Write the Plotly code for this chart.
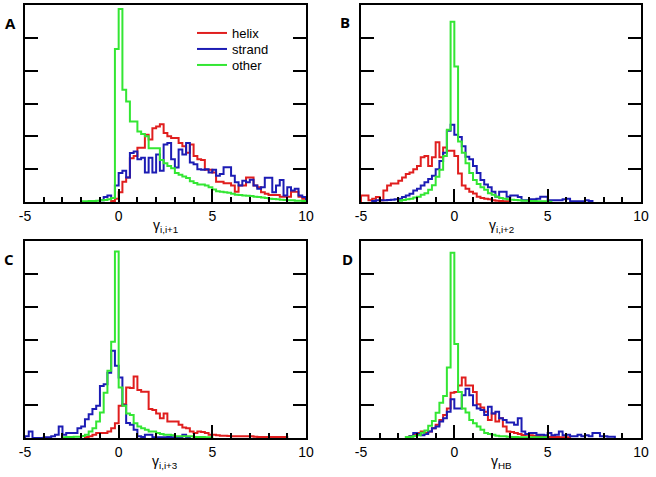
import plotly.graph_objects as go

BIN = 0.2
X_TICKS = [-5, 0, 5, 10]
X_TICK_TEXT = ["-5", "0", "5", "10"]
SERIES_NAMES = ["helix", "strand", "other"]
PANEL_LABELS = ["A", "B", "C", "D"]
AXIS_TITLES = ["γ<sub>i,i+1</sub>", "γ<sub>i,i+2</sub>", "γ<sub>i,i+3</sub>", "γ<sub>HB</sub>"]

# ---- Panel A (gamma i,i+1) ----
A_helix_start = -0.4
A_helix = [0.03, 0.1, 0.3, 0.62, 0.75, 1.33, 1.4, 1.65, 1.65, 2.05, 1.9, 2.25, 2.3, 2.37, 2.1, 2.0,
           1.95, 1.95, 1.8, 1.7, 1.5, 1.75, 1.4, 1.3, 1.28, 0.98, 0.98, 0.9, 0.62, 0.62, 0.57, 0.57,
           0.5, 0.31, 0.5, 0.5, 0.75, 0.75, 0.5, 0.45, 0.3, 0.25, 0.21, 0.21, 0.21, 0.16, 0.16, 0.16,
           0.31, 0.31, 0.16, 0.1]
A_strand_start = -1.0
A_strand = [0.05, 0.15, 0.2, 0.12, 0.5, 0.88, 0.95, 0.75, 1.49, 1.54, 1.3, 1.35, 0.9, 1.35, 0.9, 1.45,
            0.95, 1.75, 1.8, 1.3, 1.05, 1.6, 1.45, 1.8, 1.2, 1.15, 1.0, 0.98, 1.0, 0.9, 0.98, 0.8,
            0.85, 1.06, 1.06, 0.8, 0.6, 0.5, 0.65, 0.6, 0.68, 0.5, 0.4, 0.45, 0.74, 0.74, 0.3, 0.5,
            0.67, 0.2, 0.45, 0.35, 0.4, 0.2, 0.15]
A_other_start = -2.0
A_other = [0.02, 0.02, 0.03, 0.03, 0.04, 0.05, 0.06, 0.08, 0.12, 4.66, 5.88, 3.42, 3.06, 2.45, 2.45,
           2.15, 2.07, 2.0, 1.64, 1.64, 1.64, 1.28, 1.18, 1.1, 1.03, 0.88, 0.83, 0.78, 0.73, 0.63,
           0.58, 0.53, 0.53, 0.5, 0.45, 0.38, 0.33, 0.31, 0.3, 0.28, 0.25, 0.22, 0.21, 0.2, 0.19,
           0.18, 0.16, 0.15, 0.14, 0.12, 0.1, 0.09, 0.08, 0.07, 0.06, 0.05, 0.05, 0.04, 0.04, 0.03]

# ---- Panel B (gamma i,i+2) ----
B_helix_start = -5.0
B_helix = [0.2, 0.2, 0.05, 0.1, 0.15, 0.05, 0.35, 0.5, 0.56, 0.56, 0.65, 0.75, 0.85, 0.9, 1.0, 1.1,
           1.36, 1.4, 1.1, 1.36, 1.82, 1.36, 1.66, 1.56, 1.56, 1.4, 0.87, 0.5, 0.4, 0.31, 0.26, 0.16,
           0.12, 0.1, 0.08, 0.05, 0.04, 0.03, 0.02, 0.02]
B_strand_start = -4.4
B_strand = [0.03, 0.05, 0.05, 0.05, 0.06, 0.07, 0.08, 0.1, 0.15, 0.2, 0.25, 0.35, 0.4, 0.5, 0.6, 0.7,
            0.8, 1.0, 1.25, 1.5, 2.17, 2.35, 2.05, 1.98, 1.7, 1.38, 1.3, 1.1, 0.88, 0.67, 0.53, 0.45,
            0.31, 0.16, 0.31, 0.31, 0.16, 0.2, 0.2, 0.15, 0.05, 0.05, 0.08, 0.08, 0.1, 0.16, 0.16,
            0.05, 0.05, 0.05, 0.05, 0.08, 0.1, 0.02, 0.02, 0.02, 0.02, 0.05, 0.03]
B_other_start = -3.0
B_other = [0.04, 0.06, 0.08, 0.1, 0.14, 0.16, 0.22, 0.27, 0.37, 0.51, 0.77, 0.98, 1.4, 2.2, 5.49, 4.13,
           1.84, 1.5, 1.18, 0.88, 0.67, 0.55, 0.45, 0.37, 0.27, 0.22, 0.16, 0.12, 0.1, 0.08, 0.07,
           0.06, 0.05, 0.04, 0.04, 0.03, 0.03, 0.02, 0.02, 0.02, 0.01]

# ---- Panel C (gamma i,i+3) ----
C_helix_start = -1.8
C_helix = [0.03, 0.05, 0.1, 0.15, 0.15, 0.15, 0.2, 0.3, 0.45, 0.98, 1.03, 1.54, 1.52, 1.87, 1.46, 1.41,
           1.41, 0.88, 0.85, 0.75, 0.6, 0.75, 0.5, 0.5, 0.5, 0.4, 0.32, 0.3, 0.2, 0.15, 0.2, 0.18,
           0.15, 0.1, 0.1, 0.08, 0.07, 0.07, 0.06, 0.05, 0.05, 0.05, 0.05, 0.05, 0.05, 0.04, 0.03,
           0.03, 0.03, 0.03, 0.03, 0.03, 0.03, 0.03]
C_strand_start = -5.0
C_strand = [0.05, 0.2, 0.0, 0.0, 0.0, 0.02, 0.02, 0.05, 0.1, 0.35, 0.1, 0.15, 0.15, 0.15, 0.3, 0.35,
            0.57, 0.72, 0.88, 0.98, 1.58, 1.64, 1.99, 2.66, 2.2, 1.84, 1.0, 0.46, 0.4, 0.25, 0.05,
            0.03, 0.1, 0.1, 0.02, 0.02, 0.02, 0.02, 0.03, 0.02, 0.02, 0.02, 0.1, 0.02]
C_other_start = -3.0
C_other = [0.02, 0.03, 0.03, 0.04, 0.04, 0.06, 0.1, 0.2, 0.3, 0.5, 0.78, 1.38, 2.05, 2.93, 5.68, 1.54,
           0.98, 0.75, 0.7, 0.45, 0.35, 0.3, 0.25, 0.2, 0.2, 0.15, 0.12, 0.1, 0.1, 0.08, 0.05, 0.05,
           0.05, 0.05, 0.05, 0.03, 0.03, 0.03, 0.02, 0.02]

# ---- Panel D (gamma HB) ----
D_helix_start = -2.4
D_helix = [0.05, 0.1, 0.15, 0.2, 0.15, 0.2, 0.3, 0.4, 0.55, 0.7, 0.9, 1.38, 1.4, 1.6, 1.84, 1.6, 1.6,
           1.4, 1.03, 0.93, 0.8, 0.55, 0.75, 0.5, 0.6, 0.35, 0.2, 0.18, 0.15, 0.12, 0.09, 0.1, 0.08,
           0.07, 0.06, 0.05, 0.04, 0.03, 0.03, 0.03, 0.02, 0.02, 0.02]
D_strand_start = -2.4
D_strand = [0.05, 0.15, 0.12, 0.08, 0.12, 0.2, 0.3, 0.35, 0.5, 0.6, 0.8, 1.18, 0.9, 0.9, 1.3, 1.5, 1.3,
            1.0, 0.9, 0.85, 0.7, 0.95, 0.75, 0.8, 0.6, 0.55, 0.47, 0.47, 0.4, 0.6, 0.2, 0.12, 0.15,
            0.15, 0.1, 0.1, 0.08, 0.15, 0.08, 0.1, 0.2, 0.08, 0.1, 0.05, 0.05, 0.1, 0.05, 0.08, 0.05,
            0.15, 0.15, 0.05, 0.05, 0.04, 0.04]
D_other_start = -2.6
D_other = [0.03, 0.04, 0.06, 0.08, 0.16, 0.23, 0.37, 0.52, 0.77, 1.07, 1.28, 2.15, 5.64, 2.86, 1.4, 0.9,
           0.78, 0.55, 0.45, 0.35, 0.25, 0.15, 0.12, 0.1, 0.07, 0.05, 0.05, 0.04, 0.03, 0.03, 0.02,
           0.02, 0.02, 0.02, 0.02, 0.02, 0.02, 0.02]

PANELS = [
    [(A_helix_start, A_helix), (A_strand_start, A_strand), (A_other_start, A_other)],
    [(B_helix_start, B_helix), (B_strand_start, B_strand), (B_other_start, B_other)],
    [(C_helix_start, C_helix), (C_strand_start, C_strand), (C_other_start, C_other)],
    [(D_helix_start, D_helix), (D_strand_start, D_strand), (D_other_start, D_other)],
]

COLORS = ["#e01e1e", "#1c1cb4", "#33e633"]
FONT = "Liberation Sans, Arial, sans-serif"

W, H = 656, 477
# axes frames in pixels: (left, right, top, bottom)
FRAMES = [(25, 306, 5, 202), (361, 641, 5, 202), (25, 306, 241, 438), (361, 641, 241, 438)]
LABEL_POS = [(10, 23), (345, 22), (9, 259), (347, 259)]
LEGEND_Y = [33, 49, 65]
TITLE_OFFSET = 24  # px below the frame bottom (title centre)


def step_xy(start, vals):
    n = len(vals)
    edges = [round(start + i * BIN, 4) for i in range(n + 1)]
    xs = [edges[0]] + edges
    ys = [0.0] + list(vals) + [0.0]
    return xs, ys


fig = go.Figure()
layout = dict(
    template="none",
    width=W, height=H, margin=dict(l=0, r=0, t=0, b=0, autoexpand=False),
    paper_bgcolor="white", plot_bgcolor="white",
    font=dict(family=FONT, size=14, color="black"),
    showlegend=True,
)
for s in range(3):
    key = "legend" if s == 0 else "legend" + str(s + 1)
    layout[key] = dict(x=192 / W, y=1 - LEGEND_Y[s] / H, xanchor="left", yanchor="middle",
                       bgcolor="rgba(0,0,0,0)", borderwidth=0,
                       font=dict(size=13, family=FONT, color="black"), itemwidth=30)

annotations = []
for p in range(4):
    ax = "" if p == 0 else str(p + 1)
    l, r, t, b = FRAMES[p]
    for s in range(3):
        start, vals = PANELS[p][s]
        xs, ys = step_xy(start, vals)
        fig.add_trace(go.Scatter(
            x=xs, y=ys, mode="lines", line=dict(color=COLORS[s], width=2, shape="hv"),
            name=SERIES_NAMES[s], showlegend=(p == 0),
            legend="legend" if s == 0 else "legend" + str(s + 1),
            xaxis="x" + ax, yaxis="y" + ax, hoverinfo="skip"))
    layout["xaxis" + ax] = dict(
        domain=[l / W, r / W], range=[-5, 10], anchor="y" + ax, automargin=False,
        tickmode="array", tickvals=X_TICKS, ticktext=X_TICK_TEXT,
        ticks="inside", ticklen=13, tickwidth=2, tickcolor="black",
        minor=dict(dtick=1, tick0=0, ticks="inside", ticklen=5, tickwidth=1.5, tickcolor="black",
                   showgrid=False),
        showline=True, linewidth=2, linecolor="black", mirror=True,
        showgrid=False, zeroline=False,
        tickfont=dict(size=14, family=FONT, color="black"),
    )
    layout["yaxis" + ax] = dict(
        domain=[1 - b / H, 1 - t / H], range=[0, 6], anchor="x" + ax, automargin=False,
        tickmode="linear", tick0=0, dtick=1,
        ticks="inside", ticklen=13, tickwidth=2, tickcolor="black",
        showticklabels=False, showline=True, linewidth=2, linecolor="black", mirror="ticks",
        showgrid=False, zeroline=False,
    )
    lx, ly = LABEL_POS[p]
    annotations.append(dict(text="<b>" + PANEL_LABELS[p] + "</b>", x=lx / W, y=1 - ly / H,
                            xref="paper", yref="paper", showarrow=False,
                            font=dict(size=15, family="Open Sans, Arial, sans-serif", color="black"),
                            xanchor="center", yanchor="middle"))
    annotations.append(dict(text=AXIS_TITLES[p], x=(l + r) / 2 / W, y=1 - (b + TITLE_OFFSET) / H,
                            xref="paper", yref="paper", showarrow=False,
                            font=dict(size=14, family=FONT, color="black"),
                            xanchor="center", yanchor="middle"))
layout["annotations"] = annotations
fig.update_layout(**layout)
fig.write_html("out.html", config={"displayModeBar": False},
               post_script="document.body.style.margin='0px';")
